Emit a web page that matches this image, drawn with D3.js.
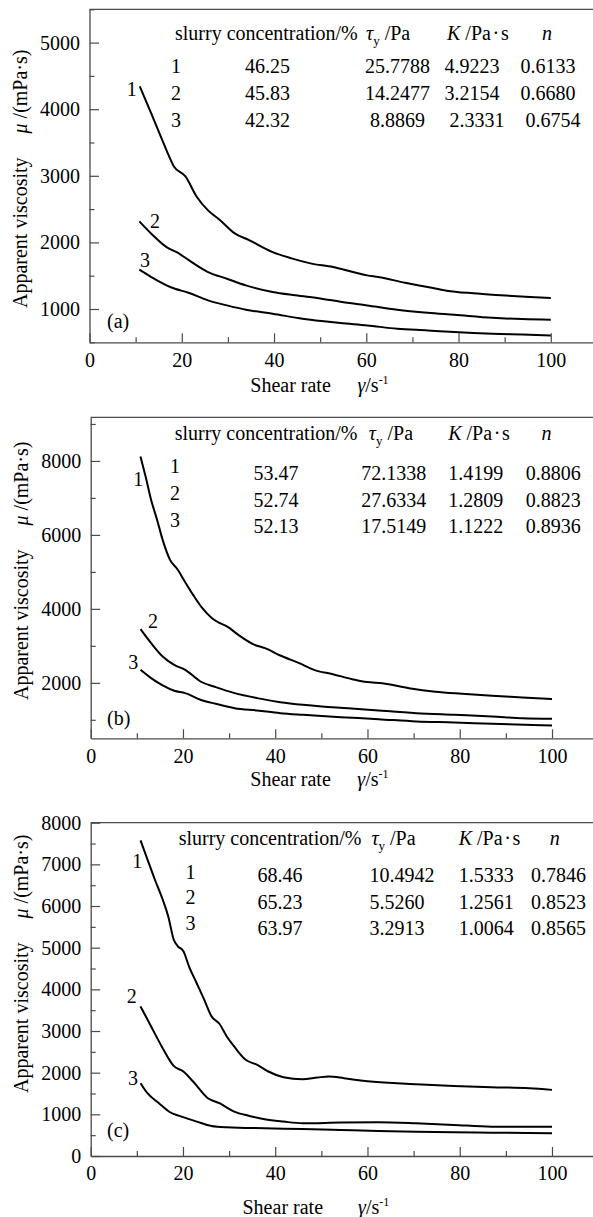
<!DOCTYPE html>
<html><head><meta charset="utf-8">
<script src="https://cdn.jsdelivr.net/npm/d3@7"></script>
<style>
body{margin:0;background:#fff}
svg{display:block;font-family:"Liberation Serif","Times New Roman",serif}
text{white-space:pre}
</style></head><body>
<svg id="chart" width="593" height="1217"></svg>
<script>
// ---------- data ----------
const xMajorTicks = [0, 20, 40, 60, 80, 100];
const xMinorTicks = [10, 30, 50, 70, 90, 110];
const yMajorA = [1000, 2000, 3000, 4000, 5000];
const yMinorA = [500, 1500, 2500, 3500, 4500, 5500];
const yMajorB = [2000, 4000, 6000, 8000];
const yMinorB = [1000, 3000, 5000, 7000, 9000];
const yMajorC = [0, 1000, 2000, 3000, 4000, 5000, 6000, 7000, 8000];
const yMinorC = [500, 1500, 2500, 3500, 4500, 5500, 6500, 7500];

const curveIds = ["1", "2", "3"];
const panelTags = ["(a)", "(b)", "(c)"];

const A1x = [10.9,13.4,16.7,18.3,20.8,23.2,25.7,28.2,31.4,34.7,39.7,43.8,47.9,52.8,56.9,60.2,62.6,68.4,73.3,77.4,83.2,88.1,95.5,100];
const A1y = [4344,3934,3383,3140,2990,2690,2481,2340,2140,2031,1855,1760,1685,1630,1560,1505,1480,1395,1330,1275,1235,1210,1180,1164];
const A2x = [10.8,13.4,16.7,19.1,21.6,25.7,29.8,33.9,39.7,44.6,50.3,54.4,60.2,66.7,73.3,79.1,87.3,93.8,100];
const A2y = [2316,2131,1930,1845,1730,1555,1455,1355,1255,1205,1155,1110,1054,989,944,914,869,848,839];
const A3x = [10.8,13.4,17.5,21.6,25.7,29.8,33.9,39.7,46.2,50.3,54.4,60.2,66.7,73.3,79.1,87.3,93.8,100];
const A3y = [1590,1480,1330,1240,1130,1054,989,929,854,819,789,754,704,679,654,629,618,603];

const B1x = [10.8,11.9,13.1,14.4,15.6,17.2,18.8,20.4,22.2,24.2,26.3,27.9,29.6,32.0,35.3,37.8,41.1,45.2,48.4,52.5,56.7,59.9,63.2,69.0,74.7,80.5,87.0,93.6,100];
const B1y = [8117,7577,6946,6405,5865,5324,5070,4739,4378,4018,3748,3620,3520,3297,3040,2937,2739,2532,2351,2234,2099,2020,1991,1856,1760,1703,1649,1604,1559];
const B2x = [10.8,13.1,15.6,18.1,20.5,23.8,27.1,31.2,36.1,41.1,46.0,50.1,55.8,62.4,70.6,78.8,87.0,93.6,100];
const B2y = [3450,3072,2712,2486,2351,2036,1883,1721,1586,1477,1405,1360,1315,1252,1180,1135,1090,1045,1027];
const B3x = [10.8,13.1,15.6,18.1,20.5,23.8,27.1,31.2,36.1,41.1,46.0,54.2,62.4,70.6,78.8,87.0,100];
const B3y = [2351,2126,1928,1784,1721,1541,1432,1315,1252,1180,1135,1072,1018,955,928,892,847];

const C1x = [10.8,12.3,13.9,15.6,16.8,18.0,18.9,20.1,21.3,22.95,24.6,26.2,27.9,29.5,31.1,33.6,36.1,38.5,41.8,45.9,49.2,51.6,54.9,59.0,66.4,70.5,78.7,86.9,95.1,100];
const C1y = [7575,7118,6637,6156,5756,5194,5034,4914,4553,4152,3752,3351,3174,2870,2629,2309,2188,2028,1892,1844,1884,1908,1868,1804,1748,1723,1683,1651,1627,1587];
const C2x = [10.8,13.1,15.6,18.0,20.1,22.2,25.4,27.9,31.1,34.4,37.7,41.8,45.9,54.1,62.3,70.5,78.7,86.9,95.1,100];
const C2y = [3591,3110,2589,2164,2028,1788,1387,1267,1066,962,882,826,786,802,810,786,746,705,705,705];
const C3x = [10.8,12.3,14.8,17.2,19.7,23.0,26.2,29.5,37.7,45.9,54.1,62.3,70.5,78.7,86.9,100];
const C3y = [1747,1507,1267,1050,946,826,721,689,665,649,625,601,585,569,561,545];

const concA = ["46.25","45.83","42.32"];
const tauA  = ["25.7788","14.2477"," 8.8869"];
const kA    = ["4.9223","3.2154"," 2.3331"];
const nA    = ["0.6133","0.6680"," 0.6754"];
const concB = ["53.47","52.74","52.13"];
const tauB  = ["72.1338","27.6334","17.5149"];
const kB    = ["1.4199","1.2809","1.1222"];
const nB    = ["0.8806","0.8823","0.8936"];
const concC = ["68.46","65.23","63.97"];
const tauC  = ["10.4942","5.5260","3.2913"];
const kC    = ["1.5333","1.2561","1.0064"];
const nC    = ["0.7846","0.8523","0.8565"];

// ---------- layout (pixel positions, not data) ----------
const layouts = [
  { left:89.5, top:9.3, bottom:342.3, yDom:[500,5500], yMaj:yMajorA, yMin:yMinorA,
    curves:[[A1x,A1y],[A2x,A2y],[A3x,A3y]], table:[concA,tauA,kA,nA],
    hdrY:39.5, hdrX:[175,366,447,542], idX:171, idY:[73,100,127], valY:[73,100,127], valX:[245,365,444.5,520.5],
    lab:[[126.7,95.7],[150,228.3],[140,266.7]], tag:[107,328.3],
    yTitle:[27,308], xTitle:[250.3,357.4,392] },
  { left:90.7, top:417.3, bottom:738.3, yDom:[500,9180], yMaj:yMajorB, yMin:yMinorB,
    curves:[[B1x,B1y],[B2x,B2y],[B3x,B3y]], table:[concB,tauB,kB,nB],
    hdrY:440, hdrX:[174.7,368.8,448.2,541.6], idX:170, idY:[473.3,500,526.7], valY:[480,506.7,533.3], valX:[253.4,361.2,448.2,525.7],
    lab:[[133.3,486],[148,627.7],[128.3,669.3]], tag:[107,725],
    yTitle:[28,700], xTitle:[250.3,357.3,786] },
  { left:90.7, top:822.7, bottom:1156, yDom:[0,8000], yMaj:yMajorC, yMin:yMinorC,
    curves:[[C1x,C1y],[C2x,C2y],[C3x,C3y]], table:[concC,tauC,kC,nC],
    hdrY:845, hdrX:[178.7,371.4,458.7,549.7], idX:185.5, idY:[878.5,903.5,930], valY:[881.8,908.5,935.3], valX:[257.6,369.5,458.7,531],
    lab:[[132.3,868.3],[126.7,1003.3],[128,1085]], tag:[107,1136.7],
    yTitle:[28,1093], xTitle:[242.5,358,1214] }
];

const svg = d3.select("#chart");
svg.append("rect").attr("width",593).attr("height",1217).attr("fill","#fff");
const AX = "#4a4a4a", TXT = "#000", FS = 20;

function styleAxis(g){
  g.attr("font-family", null).attr("font-size", null);
  g.selectAll("path.domain").attr("stroke", AX).attr("stroke-width", 1.3);
  g.selectAll(".tick line").attr("stroke", AX).attr("stroke-width", 1.2);
  g.selectAll(".tick text").attr("fill", TXT).attr("font-size", FS);
}

layouts.forEach((L, pi) => {
  const g = svg.append("g");
  const x = d3.scaleLinear().domain([0,110]).range([L.left, L.left + 4.613*110]);
  const y = d3.scaleLinear().domain(L.yDom).range([L.bottom, L.top]);

  // top frame line
  g.append("line").attr("x1", x(0)).attr("x2", x(110)).attr("y1", L.top).attr("y2", L.top)
    .attr("stroke", AX).attr("stroke-width", 1.3);

  // minor ticks
  g.append("g").attr("transform", `translate(0,${L.bottom})`)
    .call(d3.axisBottom(x).tickValues(xMinorTicks).tickSizeInner(-5).tickSizeOuter(0).tickFormat(""))
    .call(styleAxis).call(s => s.select(".domain").remove());
  g.append("g").attr("transform", `translate(${L.left},0)`)
    .call(d3.axisLeft(y).tickValues(L.yMin).tickSizeInner(-5).tickSizeOuter(0).tickFormat(""))
    .call(styleAxis).call(s => s.select(".domain").remove());

  // major axes
  g.append("g").attr("transform", `translate(0,${L.bottom})`)
    .call(d3.axisBottom(x).tickValues(xMajorTicks).tickSizeInner(-9).tickSizeOuter(0).tickPadding(10.2).tickFormat(d3.format("d")))
    .call(styleAxis);
  g.append("g").attr("transform", `translate(${L.left},0)`)
    .call(d3.axisLeft(y).tickValues(L.yMaj).tickSizeInner(-9.5).tickSizeOuter(0).tickPadding(9.5).tickFormat(d3.format("d")))
    .call(styleAxis);

  // curves
  const line = d3.line().x(d => x(d[0])).y(d => y(d[1])).curve(d3.curveMonotoneX);
  L.curves.forEach(([xs, ys]) => {
    g.append("path").datum(xs.map((v,i) => [v, ys[i]]))
      .attr("d", line).attr("fill","none").attr("stroke","#000").attr("stroke-width",2)
      .attr("stroke-linejoin","round");
  });

  // curve labels
  L.lab.forEach((p, i) => {
    g.append("text").attr("x", p[0]).attr("y", p[1]).attr("font-size", FS).attr("fill", TXT).text(curveIds[i]);
  });
  g.append("text").attr("x", L.tag[0]).attr("y", L.tag[1]).attr("font-size", FS).attr("fill", TXT).text(panelTags[pi]);

  // table header
  g.append("text").attr("x", L.hdrX[0]).attr("y", L.hdrY).attr("font-size", FS).attr("fill", TXT).text("slurry concentration/%");
  const tt = g.append("text").attr("x", L.hdrX[1]).attr("y", L.hdrY).attr("font-size", FS).attr("fill", TXT);
  tt.append("tspan").attr("font-style","italic").text("τ");
  tt.append("tspan").attr("font-size", 13).attr("dy", 5).text("y");
  tt.append("tspan").attr("dy", -5).text(" /Pa");
  const kt = g.append("text").attr("x", L.hdrX[2]).attr("y", L.hdrY).attr("font-size", FS).attr("fill", TXT);
  kt.append("tspan").attr("font-style","italic").text("K");
  kt.append("tspan").text(" /Pa\u200A·\u200As");
  g.append("text").attr("x", L.hdrX[3]).attr("y", L.hdrY).attr("font-size", FS).attr("fill", TXT)
    .attr("font-style","italic").text("n");

  // table rows
  curveIds.forEach((id, r) => {
    g.append("text").attr("x", L.idX).attr("y", L.idY[r]).attr("font-size", FS).attr("fill", TXT).text(id);
    L.table.forEach((col, c) => {
      g.append("text").attr("x", L.valX[c]).attr("y", L.valY[r]).attr("font-size", FS).attr("fill", TXT).text(col[r]);
    });
  });

  // y title
  const yt = g.append("text").attr("transform", `translate(${L.yTitle[0]},${L.yTitle[1]}) rotate(-90)`)
    .attr("font-size", FS).attr("fill", TXT);
  yt.append("tspan").text("Apparent viscosity");
  yt.append("tspan").attr("dx", 24).attr("font-style","italic").text("μ");
  yt.append("tspan").text(" /(mPa·s)");

  // x title
  g.append("text").attr("x", L.xTitle[0]).attr("y", L.xTitle[2]).attr("font-size", FS).attr("fill", TXT).text("Shear rate");
  const xt = g.append("text").attr("x", L.xTitle[1]).attr("y", L.xTitle[2]).attr("font-size", FS).attr("fill", TXT);
  xt.append("tspan").attr("font-style","italic").text("γ");
  xt.append("tspan").text("/s");
  xt.append("tspan").attr("font-size", 12).attr("dy", -8).text("-1");
});
</script>
</body></html>
